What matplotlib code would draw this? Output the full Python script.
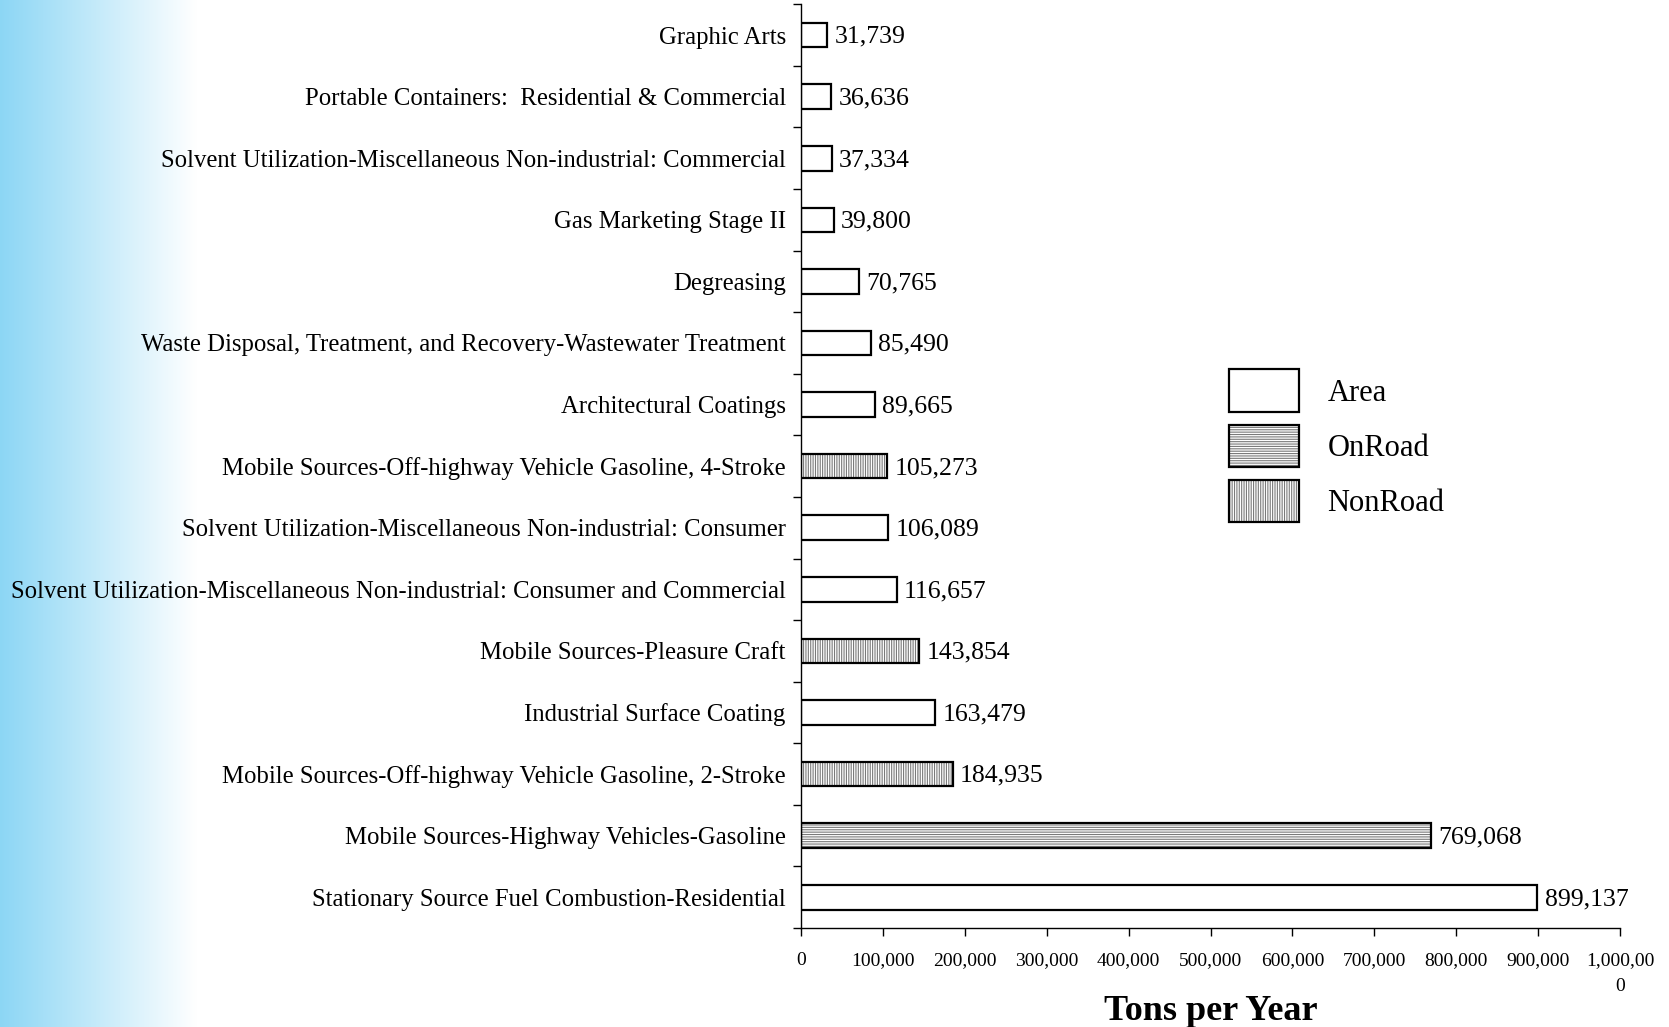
"""
Horizontal bar chart of VOC sources (tons per year) by source type
"""

import matplotlib.pyplot as plt
import numpy as np
from matplotlib.patches import Patch

# Data, top to bottom as drawn
categories = [
    "Graphic Arts",
    "Portable Containers:  Residential & Commercial",
    "Solvent Utilization-Miscellaneous Non-industrial: Commercial",
    "Gas Marketing Stage II",
    "Degreasing",
    "Waste Disposal, Treatment, and Recovery-Wastewater Treatment",
    "Architectural Coatings",
    "Mobile Sources-Off-highway Vehicle Gasoline, 4-Stroke",
    "Solvent Utilization-Miscellaneous Non-industrial: Consumer",
    "Solvent Utilization-Miscellaneous Non-industrial: Consumer and Commercial",
    "Mobile Sources-Pleasure Craft",
    "Industrial Surface Coating",
    "Mobile Sources-Off-highway Vehicle Gasoline, 2-Stroke",
    "Mobile Sources-Highway Vehicles-Gasoline",
    "Stationary Source Fuel Combustion-Residential",
]
values = [
    31739, 36636, 37334, 39800, 70765, 85490, 89665, 105273,
    106089, 116657, 143854, 163479, 184935, 769068, 899137,
]
source_types = [
    "Area", "Area", "Area", "Area", "Area", "Area", "Area", "NonRoad",
    "Area", "Area", "NonRoad", "Area", "NonRoad", "OnRoad", "Area",
]
x_ticks = [0, 100000, 200000, 300000, 400000, 500000,
           600000, 700000, 800000, 900000, 1000000]
x_tick_labels = ["0", "100,000", "200,000", "300,000", "400,000", "500,000",
                 "600,000", "700,000", "800,000", "900,000", "1,000,00\n0"]

# hatch per source type
hatches = {"Area": None, "OnRoad": "-------", "NonRoad": "|||||||"}

plt.rcParams["font.family"] = ["Liberation Serif", "DejaVu Serif"]
plt.rcParams["hatch.linewidth"] = 0.8

fig = plt.figure(figsize=(16.69, 10.27), dpi=100, facecolor="white")

# Light blue gradient on the left edge
bg = fig.add_axes([0, 0, 0.118, 1], zorder=-10)
grad = np.linspace(0, 1, 256)
left_col = np.array([0.55, 0.84, 0.96])
img = left_col[None, :] * (1 - grad[:, None]) + np.ones(3)[None, :] * grad[:, None]
bg.imshow(img[None, :, :], aspect="auto", extent=[0, 1, 0, 1])
bg.axis("off")

ax = fig.add_axes([0.48, 0.0964, 0.4906, 0.8994])
ax.set_facecolor("none")

y = np.arange(len(categories))
for yi, v, st in zip(y, values, source_types):
    h = hatches[st]
    if h:
        ax.barh(yi, v, height=0.4, color="white", edgecolor="#7a7a7a",
                hatch=h, linewidth=0)
    ax.barh(yi, v, height=0.4, color="none", edgecolor="black", linewidth=1.6)
    ax.text(v + 9000, yi + 0.03, f"{v:,}", va="center", ha="left", fontsize=18.5)

ax.set_ylim(len(categories) - 0.5, -0.5)
ax.set_xlim(0, 1000000)
ax.set_yticks(y)
ax.set_yticklabels(categories, fontsize=17.8)
ax.set_yticks(np.arange(-0.5, len(categories), 1), minor=True)
ax.tick_params(axis="y", which="major", length=0, pad=11)
ax.tick_params(axis="y", which="minor", length=6, width=1, direction="out")

ax.set_xticks(x_ticks)
ax.set_xticklabels(x_tick_labels, fontsize=14, va="top", linespacing=1.7)
ax.tick_params(axis="x", length=6, width=1, direction="out", pad=11)

ax.spines["top"].set_visible(False)
ax.spines["right"].set_visible(False)
ax.spines["left"].set_linewidth(1)
ax.spines["bottom"].set_linewidth(1)

ax.set_xlabel("Tons per Year", fontsize=26, fontweight="bold", labelpad=0)

# Legend: hatched patch overlaid with black outline
handles = []
for st in ["Area", "OnRoad", "NonRoad"]:
    outline = Patch(facecolor="none", edgecolor="black", linewidth=1.6)
    if hatches[st]:
        fill = Patch(facecolor="white", edgecolor="#7a7a7a",
                     hatch=hatches[st], linewidth=0)
        handles.append((fill, outline))
    else:
        handles.append((Patch(facecolor="white", edgecolor="none"), outline))

fig.legend(
    handles,
    ["Area", "OnRoad", "NonRoad"],
    loc="upper left",
    bbox_to_anchor=(0.72, 0.667),
    frameon=False,
    fontsize=22,
    handlelength=2.27,
    handleheight=1.75,
    labelspacing=0.42,
    handletextpad=0.95,
)

plt.savefig("out.png", dpi=100, facecolor="white")
plt.close()
